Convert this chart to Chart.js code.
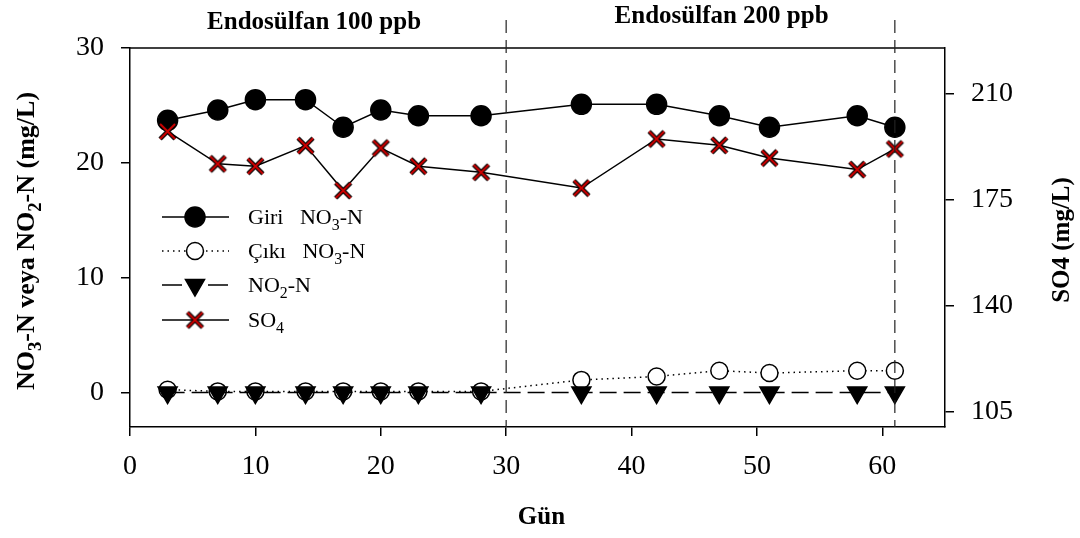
<!DOCTYPE html>
<html>
<head>
<meta charset="utf-8">
<script src="https://cdn.jsdelivr.net/npm/chart.js@4.4.0/dist/chart.umd.min.js"></script>
<style>
  html, body { margin: 0; padding: 0; background: #fff; }
  #kutu { width: 1080px; height: 538px; }
</style>
</head>
<body>
<div id="kutu"><canvas id="grafik" width="1080" height="538"></canvas></div>
<script>
// Örnekleme günleri
var gunler = [3, 7, 10, 14, 17, 20, 23, 28, 36, 42, 47, 51, 58, 61];
// Giriş NO3-N (mg/L)
var girisNO3 = [23.7, 24.6, 25.5, 25.5, 23.1, 24.6, 24.1, 24.1, 25.1, 25.1, 24.1, 23.1, 24.1, 23.1];
// Çıkış NO3-N (mg/L)
var cikisNO3 = [0.25, 0.1, 0.1, 0.1, 0.1, 0.1, 0.1, 0.1, 1.1, 1.4, 1.9, 1.7, 1.9, 1.9];
// NO2-N (mg/L)
var no2N = [0, 0, 0, 0, 0, 0, 0, 0, 0, 0, 0, 0, 0, 0];
// SO4 (mg/L) - sağ eksen
var so4 = [197.5, 186.8, 186.0, 192.8, 178.0, 192.0, 186.0, 184.0, 178.8, 195.0, 192.9, 188.7, 184.9, 191.7];

// eksen tikleri
var solTikler = [0, 10, 20, 30];
var sagTikler = [105, 140, 175, 210];
var gunTikler = [0, 10, 20, 30, 40, 50, 60];

// endosülfan dönemleri
var donemSiniri = [30, 61];
var donemEtiketi = ['Endosülfan 100 ppb', 'Endosülfan 200 ppb'];

var AILE = "'Liberation Serif', 'Times New Roman', serif";

// kırmızı çarpı (siyah kenarlı)
function carpiIsareti(boyut) {
  var c = document.createElement('canvas');
  c.width = c.height = boyut;
  var g = c.getContext('2d');
  var m = 3, e = boyut - 3;
  g.beginPath();
  g.moveTo(m, m); g.lineTo(e, e);
  g.moveTo(e, m); g.lineTo(m, e);
  g.strokeStyle = '#000'; g.lineWidth = 4.5; g.stroke();
  g.strokeStyle = '#d00000'; g.lineWidth = 2; g.stroke();
  return c;
}
var carpi = carpiIsareti(21);

function noktalar(dizi) {
  return gunler.map(function (g, i) { return { x: g, y: dizi[i] }; });
}

// alt simgeli yazı: parcalar = [[metin, altSimge], ...], y = taban çizgisi
function zenginYaz(ctx, parcalar, x, y, boyut, kalin, ortala) {
  var on = kalin ? 'bold ' : '';
  var toplam = 0;
  parcalar.forEach(function (p) {
    ctx.font = on + (p[1] ? boyut * 0.72 : boyut) + 'px ' + AILE;
    toplam += ctx.measureText(p[0]).width;
  });
  var bas = ortala ? x - toplam / 2 : x;
  ctx.textAlign = 'left';
  ctx.textBaseline = 'alphabetic';
  parcalar.forEach(function (p) {
    ctx.font = on + (p[1] ? boyut * 0.72 : boyut) + 'px ' + AILE;
    ctx.fillText(p[0], bas, y + (p[1] ? boyut * 0.28 : 0));
    bas += ctx.measureText(p[0]).width;
  });
}

var stiller = {
  giris: { cizgi: [], nokta: 'circle', r: 10, dolgu: '#000', kenar: '#000', don: 0 },
  cikis: { cizgi: [1.5, 4], nokta: 'circle', r: 8.5, dolgu: '#fff', kenar: '#000', don: 0 },
  no2: { cizgi: [17, 7], nokta: 'triangle', r: 11, dolgu: '#000', kenar: '#000', don: 180 },
  so4: { cizgi: [], nokta: carpi, r: 10, dolgu: '#000', kenar: '#000', don: 0 }
};

function veriSeti(ad, dizi, s, eksen) {
  return {
    label: ad,
    data: noktalar(dizi),
    yAxisID: eksen,
    borderColor: '#000',
    borderWidth: 1.5,
    borderDash: s.cizgi,
    pointStyle: s.nokta,
    pointRadius: s.r,
    pointHoverRadius: s.r,
    pointRotation: s.don,
    pointBackgroundColor: s.dolgu,
    pointBorderColor: s.kenar,
    pointBorderWidth: 1.5,
    tension: 0,
    fill: false
  };
}

var lejant = [
  { s: stiller.giris, parca: [['Giri', 0], ['   NO', 0], ['3', 1], ['-N', 0]] },
  { s: stiller.cikis, parca: [['Çıkı', 0], ['   NO', 0], ['3', 1], ['-N', 0]] },
  { s: stiller.no2, parca: [['NO', 0], ['2', 1], ['-N', 0]], araCizgi: [20, 26, 20] },
  { s: stiller.so4, parca: [['SO', 0], ['4', 1]] }
];

var ekler = {
  id: 'ekler',
  afterDatasetsDraw: function (chart) {
    var ctx = chart.ctx, a = chart.chartArea, sx = chart.scales.x;
    ctx.save();
    ctx.fillStyle = '#000';
    ctx.strokeStyle = '#000';

    // üst çerçeve
    ctx.lineWidth = 1.5;
    ctx.beginPath(); ctx.moveTo(a.left, a.top); ctx.lineTo(a.right, a.top); ctx.stroke();

    // dönem sınır çizgileri
    ctx.setLineDash([13, 7]);
    ctx.lineWidth = 1.2;
    ctx.strokeStyle = '#222';
    donemSiniri.forEach(function (g) {
      var px = sx.getPixelForValue(g);
      ctx.beginPath(); ctx.moveTo(px, 20); ctx.lineTo(px, a.bottom); ctx.stroke();
    });
    ctx.setLineDash([]);

    // dönem etiketleri
    ctx.font = 'bold 25px ' + AILE;
    ctx.textAlign = 'center';
    ctx.textBaseline = 'alphabetic';
    ctx.fillText(donemEtiketi[0], sx.getPixelForValue((sx.min + donemSiniri[0]) / 2) - 4, 29);
    ctx.fillText(donemEtiketi[1], sx.getPixelForValue((donemSiniri[0] + sx.max) / 2) - 4, 23);

    // eksen başlıkları
    ctx.font = 'bold 25px ' + AILE;
    ctx.fillText('Gün', (a.left + a.right) / 2 + 4, 524);

    ctx.save();
    ctx.translate(25, 241);
    ctx.rotate(-Math.PI / 2);
    zenginYaz(ctx, [['NO', 0], ['3', 1], ['-N veya NO', 0], ['2', 1], ['-N (mg/L)', 0]], 0, 9, 26, true, true);
    ctx.restore();

    ctx.save();
    ctx.translate(1060, 240);
    ctx.rotate(-Math.PI / 2);
    ctx.font = 'bold 25px ' + AILE;
    ctx.textAlign = 'center';
    ctx.fillText('SO4 (mg/L)', 0, 9);
    ctx.restore();

    // lejant
    var satirlar = [217, 251, 285, 320];
    lejant.forEach(function (l, i) {
      var y = satirlar[i];
      ctx.lineWidth = 1.5;
      ctx.strokeStyle = '#000';
      ctx.setLineDash(l.araCizgi || l.s.cizgi);
      ctx.beginPath(); ctx.moveTo(162, y); ctx.lineTo(229, y); ctx.stroke();
      ctx.setLineDash([]);
      ctx.fillStyle = l.s.dolgu;
      ctx.strokeStyle = l.s.kenar;
      Chart.helpers.drawPoint(ctx, { pointStyle: l.s.nokta, rotation: l.s.don, radius: l.s.r, borderWidth: 1.5 }, 195, y);
      ctx.fillStyle = '#000';
      zenginYaz(ctx, l.parca, 248, y + 7, 22, false, false);
    });
    ctx.restore();
  }
};

var tikStili = { color: '#000', font: { family: AILE, size: 28 } };
var izgara = { drawOnChartArea: false, drawTicks: true, tickLength: 9, color: '#000', lineWidth: 1.5 };
var kenar = { display: true, color: '#000', width: 1.5 };

function tikAta(liste) {
  return function (olcek) { olcek.ticks = liste.map(function (v) { return { value: v }; }); };
}

new Chart(document.getElementById('grafik'), {
  type: 'line',
  data: {
    datasets: [
      veriSeti('SO4', so4, stiller.so4, 'ySag'),
      veriSeti('Giriş NO3-N', girisNO3, stiller.giris, 'y'),
      veriSeti('NO2-N', no2N, stiller.no2, 'y'),
      veriSeti('Çıkış NO3-N', cikisNO3, stiller.cikis, 'y')
    ]
  },
  options: {
    responsive: false,
    animation: false,
    devicePixelRatio: 1,
    layout: { padding: { top: 48, left: 0, right: 0, bottom: 0 } },
    plugins: { legend: { display: false }, tooltip: { enabled: false } },
    scales: {
      x: {
        type: 'linear', min: 0, max: 65,
        afterBuildTicks: tikAta(gunTikler),
        afterFit: function (o) { o.height = 111; },
        ticks: Object.assign({ padding: 14 }, tikStili),
        grid: izgara, border: kenar
      },
      y: {
        type: 'linear', position: 'left', min: -3, max: 30,
        afterBuildTicks: tikAta(solTikler),
        afterFit: function (o) { o.width = 130; },
        ticks: Object.assign({ padding: 17 }, tikStili),
        grid: izgara, border: kenar
      },
      ySag: {
        type: 'linear', position: 'right', min: 100, max: 225,
        afterBuildTicks: tikAta(sagTikler),
        afterFit: function (o) { o.width = 135; },
        ticks: Object.assign({ padding: 17 }, tikStili),
        grid: izgara, border: kenar
      }
    }
  },
  plugins: [ekler]
});
</script>
</body>
</html>
